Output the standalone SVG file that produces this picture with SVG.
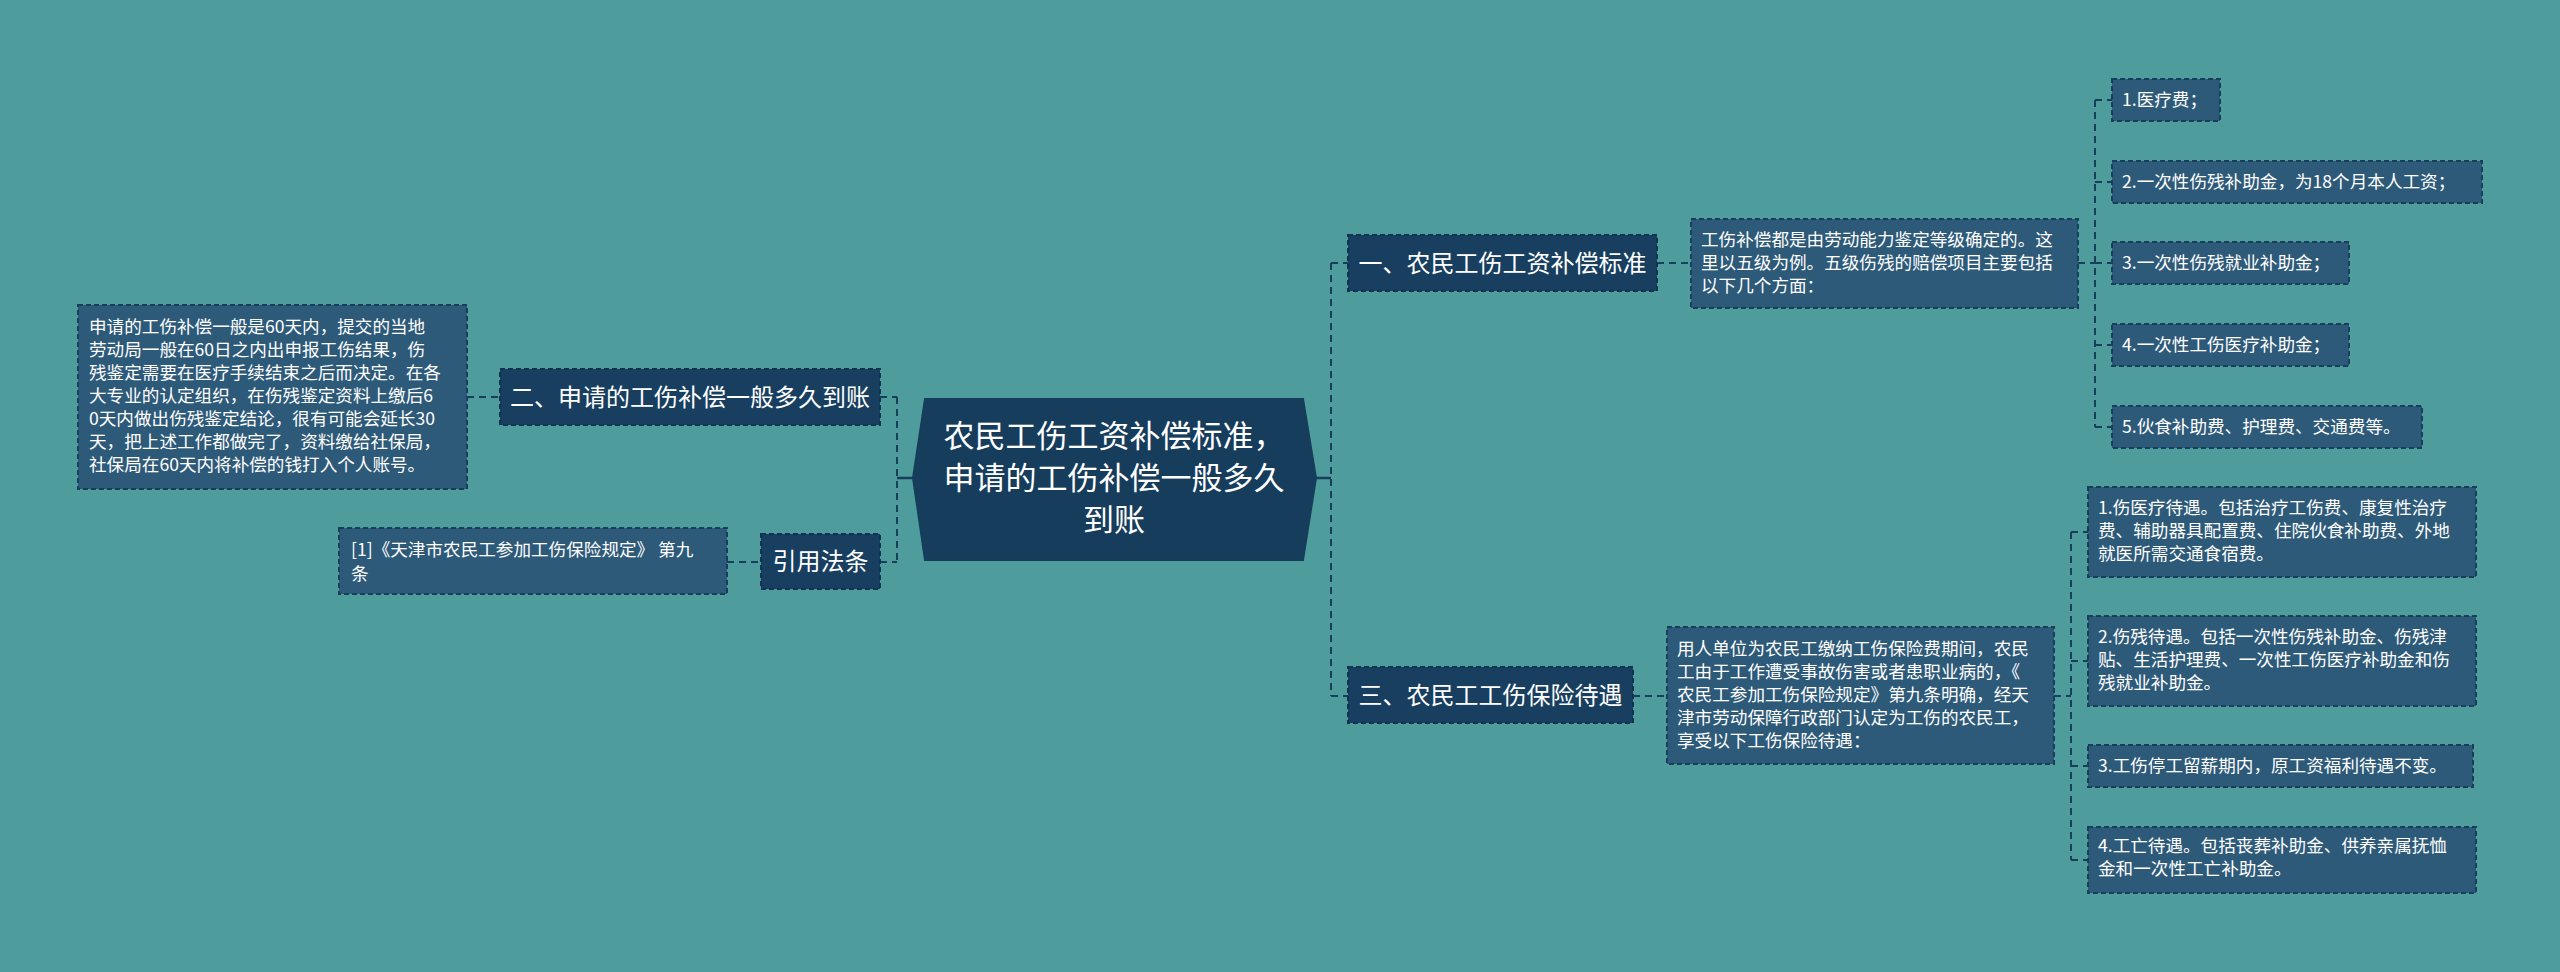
<svg xmlns="http://www.w3.org/2000/svg" width="2560" height="972" viewBox="0 0 2560 972">
<style>
.bg{fill:#4e9c9b}
.conn{fill:none;stroke:#183e5c;stroke-width:2;stroke-dasharray:7,5}
.solid{fill:none;stroke:#183e5c;stroke-width:2.5}
.root{fill:#173d5d;stroke:#173d5d;stroke-width:2}
.l1{fill:#183f5f;stroke:#0f3350;stroke-width:2;stroke-dasharray:5,3}
.leaf{fill:#2e5a7a;stroke:#183e5c;stroke-width:2;stroke-dasharray:5,3}
text{font-family:"Microsoft YaHei","Noto Sans CJK SC","Noto Sans",sans-serif;fill:#ffffff}
.t30{font-size:31px}
.t24{font-size:24px}
.t18{font-size:17.6px}
</style>
<rect class="bg" x="0" y="0" width="2560" height="972"/>
<g id="connectors">
<path class="solid" d="M897 478H913M1316 478H1331"/>
<path class="conn" d="M897 397V562M880 397H897M880 562H897M467 397H500M727 562H761"/>
<path class="conn" d="M1331 263V696M1331 263H1348M1331 696H1348M1657 263H1691M1633 696H1667"/>
<path class="conn" d="M2078 263H2095M2095 100V427M2095 100H2112M2095 182H2112M2095 263H2112M2095 345H2112M2095 427H2112"/>
<path class="conn" d="M2054 696H2071M2071 532V860M2071 532H2088M2071 661H2088M2071 766H2088M2071 860H2088"/>
</g>
<g id="root">
<polygon class="root" points="925,399 1303,399 1316,478 1303,560 925,560 913,478"/>
<text class="t30" x="1114" y="447" text-anchor="middle">农民工伤工资补偿标准，</text>
<text class="t30" x="1114" y="489" text-anchor="middle">申请的工伤补偿一般多久</text>
<text class="t30" x="1114" y="531" text-anchor="middle">到账</text>
</g>
<g id="n2">
<rect class="l1" x="500" y="369" width="380" height="56"/>
<text class="t24" x="690" y="405.5" text-anchor="middle">二、申请的工伤补偿一般多久到账</text>
</g>
<g id="n2-leaf">
<rect class="leaf" x="78" y="305" width="389" height="184"/>
<text class="t18" x="89" y="333">申请的工伤补偿一般是60天内，提交的当地</text>
<text class="t18" x="89" y="356">劳动局一般在60日之内出申报工伤结果，伤</text>
<text class="t18" x="89" y="379">残鉴定需要在医疗手续结束之后而决定。在各</text>
<text class="t18" x="89" y="402">大专业的认定组织，在伤残鉴定资料上缴后6</text>
<text class="t18" x="89" y="425">0天内做出伤残鉴定结论，很有可能会延长30</text>
<text class="t18" x="89" y="448">天，把上述工作都做完了，资料缴给社保局，</text>
<text class="t18" x="89" y="471">社保局在60天内将补偿的钱打入个人账号。</text>
</g>
<g id="ref">
<rect class="l1" x="761" y="534" width="119" height="55"/>
<text class="t24" x="820.5" y="570" text-anchor="middle">引用法条</text>
</g>
<g id="ref-leaf">
<rect class="leaf" x="339" y="528" width="388" height="66"/>
<text class="t18" x="351" y="556">[1]《天津市农民工参加工伤保险规定》 第九</text>
<text class="t18" x="351" y="580">条</text>
</g>
<g id="n1">
<rect class="l1" x="1348" y="235" width="309" height="56"/>
<text class="t24" x="1502.5" y="271.5" text-anchor="middle">一、农民工伤工资补偿标准</text>
</g>
<g id="n1-leaf">
<rect class="leaf" x="1691" y="219" width="387" height="89"/>
<text class="t18" x="1701" y="246">工伤补偿都是由劳动能力鉴定等级确定的。这</text>
<text class="t18" x="1701" y="269">里以五级为例。五级伤残的赔偿项目主要包括</text>
<text class="t18" x="1701" y="292">以下几个方面：</text>
</g>
<g id="n1-a">
<rect class="leaf" x="2112" y="79" width="108" height="42"/>
<text class="t18" x="2122" y="106">1.医疗费；</text>
</g>
<g id="n1-b">
<rect class="leaf" x="2112" y="161" width="370" height="42"/>
<text class="t18" x="2122" y="188">2.一次性伤残补助金，为18个月本人工资；</text>
</g>
<g id="n1-c">
<rect class="leaf" x="2112" y="242" width="237" height="42"/>
<text class="t18" x="2122" y="269">3.一次性伤残就业补助金；</text>
</g>
<g id="n1-d">
<rect class="leaf" x="2112" y="324" width="237" height="42"/>
<text class="t18" x="2122" y="351">4.一次性工伤医疗补助金；</text>
</g>
<g id="n1-e">
<rect class="leaf" x="2112" y="406" width="310" height="42"/>
<text class="t18" x="2122" y="433">5.伙食补助费、护理费、交通费等。</text>
</g>
<g id="n3">
<rect class="l1" x="1348" y="667" width="285" height="56"/>
<text class="t24" x="1490.5" y="703.5" text-anchor="middle">三、农民工工伤保险待遇</text>
</g>
<g id="n3-leaf">
<rect class="leaf" x="1667" y="627" width="387" height="137"/>
<text class="t18" x="1677" y="655">用人单位为农民工缴纳工伤保险费期间，农民</text>
<text class="t18" x="1677" y="678">工由于工作遭受事故伤害或者患职业病的，《</text>
<text class="t18" x="1677" y="701">农民工参加工伤保险规定》第九条明确，经天</text>
<text class="t18" x="1677" y="724">津市劳动保障行政部门认定为工伤的农民工，</text>
<text class="t18" x="1677" y="747">享受以下工伤保险待遇：</text>
</g>
<g id="n3-a">
<rect class="leaf" x="2088" y="487" width="388" height="90"/>
<text class="t18" x="2098" y="514">1.伤医疗待遇。包括治疗工伤费、康复性治疗</text>
<text class="t18" x="2098" y="537">费、辅助器具配置费、住院伙食补助费、外地</text>
<text class="t18" x="2098" y="560">就医所需交通食宿费。</text>
</g>
<g id="n3-b">
<rect class="leaf" x="2088" y="616" width="388" height="90"/>
<text class="t18" x="2098" y="643">2.伤残待遇。包括一次性伤残补助金、伤残津</text>
<text class="t18" x="2098" y="666">贴、生活护理费、一次性工伤医疗补助金和伤</text>
<text class="t18" x="2098" y="689">残就业补助金。</text>
</g>
<g id="n3-c">
<rect class="leaf" x="2088" y="745" width="385" height="42"/>
<text class="t18" x="2098" y="772">3.工伤停工留薪期内，原工资福利待遇不变。</text>
</g>
<g id="n3-d">
<rect class="leaf" x="2088" y="827" width="388" height="66"/>
<text class="t18" x="2098" y="852">4.工亡待遇。包括丧葬补助金、供养亲属抚恤</text>
<text class="t18" x="2098" y="875">金和一次性工亡补助金。</text>
</g>
</svg>
